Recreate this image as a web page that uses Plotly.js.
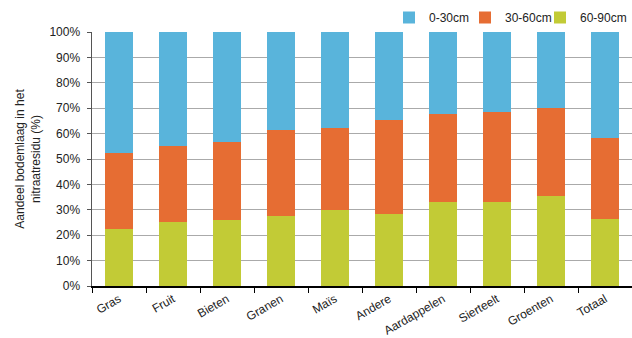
<!DOCTYPE html>
<html><head><meta charset="utf-8">
<script src="https://cdn.plot.ly/plotly-3.0.1.min.js"></script>
<style>html,body{margin:0;padding:0;background:#fff}#c{width:632px;height:338px}</style>
</head><body><div id="c"></div>
<script>
const categories = ["Gras","Fruit","Bieten","Granen","Maïs","Andere","Aardappelen","Sierteelt","Groenten","Totaal"];
const layer6090 = [22.4, 25.1, 25.9, 27.5, 29.8, 28.4, 32.9, 32.9, 35.3, 26.3];
const layer3060 = [29.8, 30.2, 30.6, 34.1, 32.6, 36.8, 34.7, 35.7, 34.6, 31.9];
const layer030  = [48.3, 44.7, 43.5, 38.4, 37.6, 34.8, 32.4, 31.4, 30.1, 41.8];
const seriesNames = ["0-30cm","30-60cm","60-90cm"];
const tickVals = [0,10,20,30,40,50,60,70,80,90,100];
const tickText = tickVals.map(v => v + "%");

const font = {family: "Liberation Sans, Arial, sans-serif", size: 12, color: "#222"};
const traces = [
  {type:"bar", name: seriesNames[2], x: categories, y: layer6090, marker:{color:"#c2cb36"}, legend: "legend3"},
  {type:"bar", name: seriesNames[1], x: categories, y: layer3060, marker:{color:"#e66d33"}, legend: "legend2"},
  {type:"bar", name: seriesNames[0], x: categories, y: layer030, marker:{color:"#59b4db"}, legend: "legend"}
];
function leg(xfrac, anchor) {
  return {orientation: "h", xref: "container", x: xfrac, xanchor: anchor,
          yref: "container", y: 1 - 32/338, yanchor: "bottom", bgcolor: "rgba(0,0,0,0)",
          font: {family: font.family, size: 12, color: "#222"}, itemwidth: 30};
}
const layout = {
  width: 632, height: 338,
  margin: {l: 92, r: 0, t: 31, b: 52},
  barmode: "stack", bargap: 0.49,
  paper_bgcolor: "#fff", plot_bgcolor: "#fff",
  font: font,
  showlegend: true,
  legend: leg(389/632, "left"), legend2: leg(465/632, "left"), legend3: leg(1, "right"),
  xaxis: {type: "category", tickangle: -30, ticks: "outside", tickson: "boundaries", ticklen: 5,
          tickcolor: "#000", showline: true, linecolor: "#000", linewidth: 1.5, showgrid: false,
          tickfont: font, range: [-0.5, 9.5]},
  yaxis: {range: [0, 100], tickvals: tickVals, ticktext: tickText, ticks: "outside", ticklen: 4,
          tickcolor: "#555", showline: true, linecolor: "#555", linewidth: 1.5,
          showgrid: true, gridcolor: "#aaaaaa", gridwidth: 1, zeroline: false,
          tickfont: font, ticklabelstandoff: 4,
          title: {text: "Aandeel bodemlaag in het<br>nitraatresidu (%)", font: font, standoff: 6}}
};
Plotly.newPlot("c", traces, layout, {displayModeBar: false, staticPlot: true});
</script></body></html>
